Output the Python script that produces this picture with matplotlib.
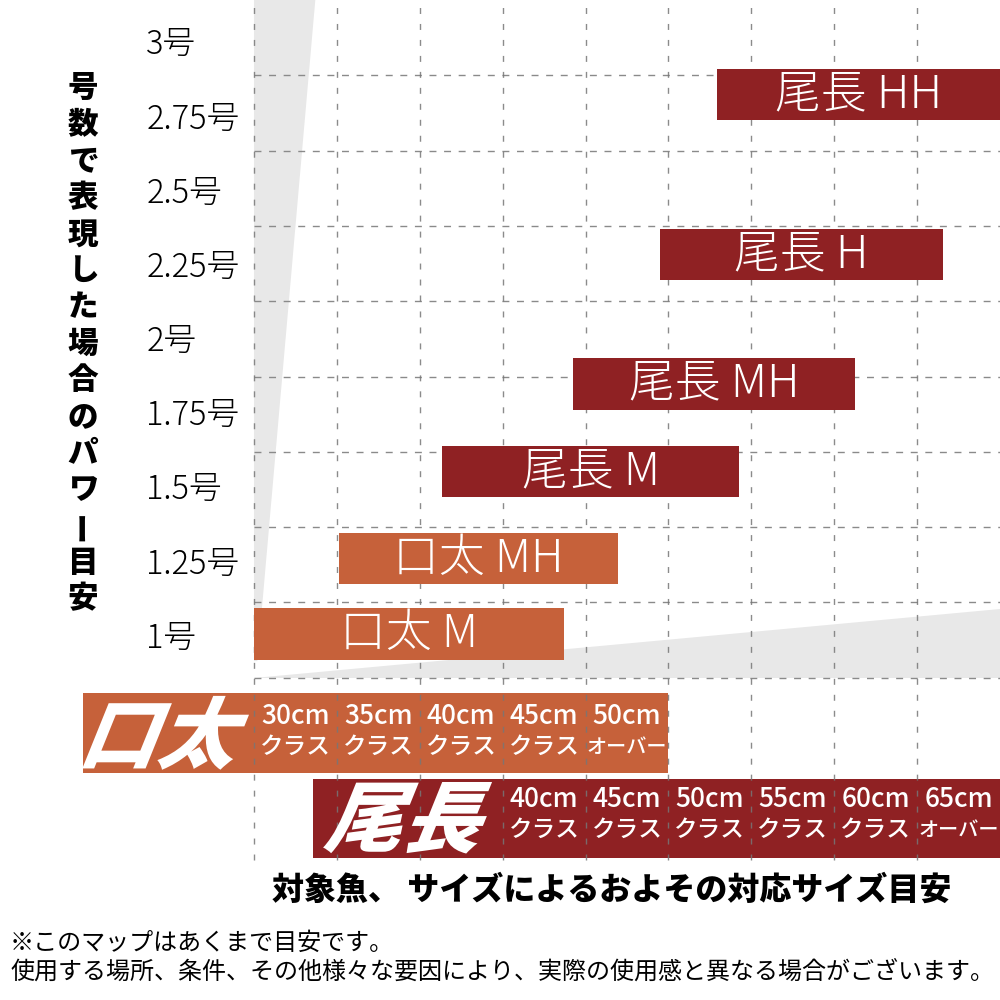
import matplotlib
matplotlib.use('Agg')
import matplotlib.pyplot as plt
import matplotlib.transforms as mtransforms
from matplotlib.patches import Rectangle, Polygon, PathPatch
from matplotlib.textpath import TextPath
from matplotlib.font_manager import FontProperties

plt.rcParams['font.family'] = ['Noto Sans CJK JP', 'DejaVu Sans']

# y axis: line number (号), x axis: fish size columns
gou_values = [1, 1.25, 1.5, 1.75, 2, 2.25, 2.5, 2.75, 3]
gou_labels = ['1号', '1.25号', '1.5号', '1.75号', '2号', '2.25号', '2.5号', '2.75号', '3号']
y_title = '号数で表現した場合のパワー目安'

# rod ranges (start/end in size columns, centre in 号)
bar_names = ['口太 M', '口太 MH', '尾長 M', '尾長 MH', '尾長 H', '尾長 HH']
bar_group = ['口太', '口太', '尾長', '尾長', '尾長', '尾長']
bar_start = [0.0, 1.03, 2.27, 3.85, 4.9, 5.58]
bar_end = [3.74, 4.39, 5.85, 7.25, 8.31, 9.0]
bar_gou = [1.02, 1.27, 1.56, 1.85, 2.28, 2.81]

# size scales of the two fish
kuchibuto_cm = ['30cm', '35cm', '40cm', '45cm', '50cm']
kuchibuto_cls = ['クラス', 'クラス', 'クラス', 'クラス', 'オーバー']
kuchibuto_col = [0, 1, 2, 3, 4]
onaga_cm = ['40cm', '45cm', '50cm', '55cm', '60cm', '65cm']
onaga_cls = ['クラス', 'クラス', 'クラス', 'クラス', 'クラス', 'オーバー']
onaga_col = [3, 4, 5, 6, 7, 8]

# grey guide wedges
wedge_v = [(0, 3.125), (0.74, 3.125), (0.04, 0.93), (0, 0.93)]
wedge_h = [(0, 0.875), (9, 0.875), (9, 1.104)]

colors = {'口太': '#C6613A', '尾長': '#8F2123'}

fig = plt.figure(figsize=(10, 10), dpi=100)
ax = fig.add_axes([0, 0, 1, 1])
ax.set_xlim(-3.064, 9.0)
ax.set_ylim(-0.195, 3.125)
ax.axis('off')

ax.add_patch(Polygon(wedge_v, closed=True, color='#E8E8E8', lw=0, zorder=0))
ax.add_patch(Polygon(wedge_h, closed=True, color='#E8E8E8', lw=0, zorder=0))

# grid
for k in range(9):
    ax.plot([0, 9], [0.875 + 0.25 * k] * 2, color='#8A8A8A', lw=1.0,
            ls=(0, (5, 5.5)), zorder=2)
for c in range(9):
    ax.plot([c, c], [0.271, 3.125], color='#777777', lw=1.0,
            ls=(0, (4.3, 7.2)), zorder=2, alpha=0.85)

# bands at the bottom
ax.add_patch(Rectangle((-2.06, 0.56), 7.06, 0.265, color=colors['口太'], lw=0, zorder=1))
ax.add_patch(Rectangle((0.71, 0.277), 8.4, 0.263, color=colors['尾長'], lw=0, zorder=1))

for col, cm, cls in zip(kuchibuto_col, kuchibuto_cm, kuchibuto_cls):
    ax.text(col + 0.5, 0.745, cm, color='white', fontsize=19, fontweight='medium',
            ha='center', va='center', zorder=4)
    ax.text(col + 0.5, 0.643, cls, color='white', fontsize=17 if cls == 'クラス' else 14.5,
            fontweight='medium', ha='center', va='center', zorder=4)
for col, cm, cls in zip(onaga_col, onaga_cm, onaga_cls):
    ax.text(col + 0.5, 0.470, cm, color='white', fontsize=19, fontweight='medium',
            ha='center', va='center', zorder=4)
    ax.text(col + 0.5, 0.367, cls, color='white', fontsize=17 if cls == 'クラス' else 14.5,
            fontweight='medium', ha='center', va='center', zorder=4)

# slanted logos
logo_fp = FontProperties(family='Noto Sans CJK JP', weight='black')
for word, (lx, ly) in [('口太', (-1.01, 0.692)), ('尾長', (1.9, 0.41))]:
    tp = TextPath((0, 0), word, size=56, prop=logo_fp)
    ext = tp.get_extents()
    tr = (mtransforms.Affine2D().translate(-(ext.x0 + ext.x1) / 2, -(ext.y0 + ext.y1) / 2)
          .skew_deg(22, 0).scale(1 / 72.0)
          + fig.dpi_scale_trans + mtransforms.ScaledTranslation(lx, ly, ax.transData))
    fig.add_artist(PathPatch(tp, transform=tr, color='white', lw=0, zorder=5))

# rod bars
for name, grp, x0, x1, g in zip(bar_names, bar_group, bar_start, bar_end, bar_gou):
    ax.add_patch(Rectangle((x0, g - 0.085), x1 - x0, 0.17, color=colors[grp], lw=0, zorder=3))
    ax.text((x0 + x1) / 2, g, name, color='white', fontsize=33, fontweight='light',
            ha='center', va='center', zorder=4)

# y labels
for v, lab in zip(gou_values, gou_labels):
    ax.text(-1.30, 1.005 + (v - 1) * 0.985, lab, fontsize=23.5, fontweight='light',
            ha='left', va='center')

# vertical title
n = len(y_title)
for i, ch in enumerate(y_title):
    y = 2.834 - i * (2.834 - 1.137) / (n - 1)
    ax.text(-2.063, y, ch, fontsize=22, fontweight='black', ha='center', va='center',
            rotation=90 if ch == 'ー' else 0)

ax.text(4.32, 0.171, '対象魚、 サイズによるおよその対応サイズ目安', fontsize=23,
        fontweight='black', ha='center', va='center')
ax.text(-2.943, -0.005, '※このマップはあくまで目安です。', fontsize=17.3,
        ha='left', va='center')
ax.text(-2.943, -0.101, '使用する場所、条件、その他様々な要因により、実際の使用感と異なる場合がございます。',
        fontsize=17.3, ha='left', va='center')

fig.savefig('out.png', dpi=100)
